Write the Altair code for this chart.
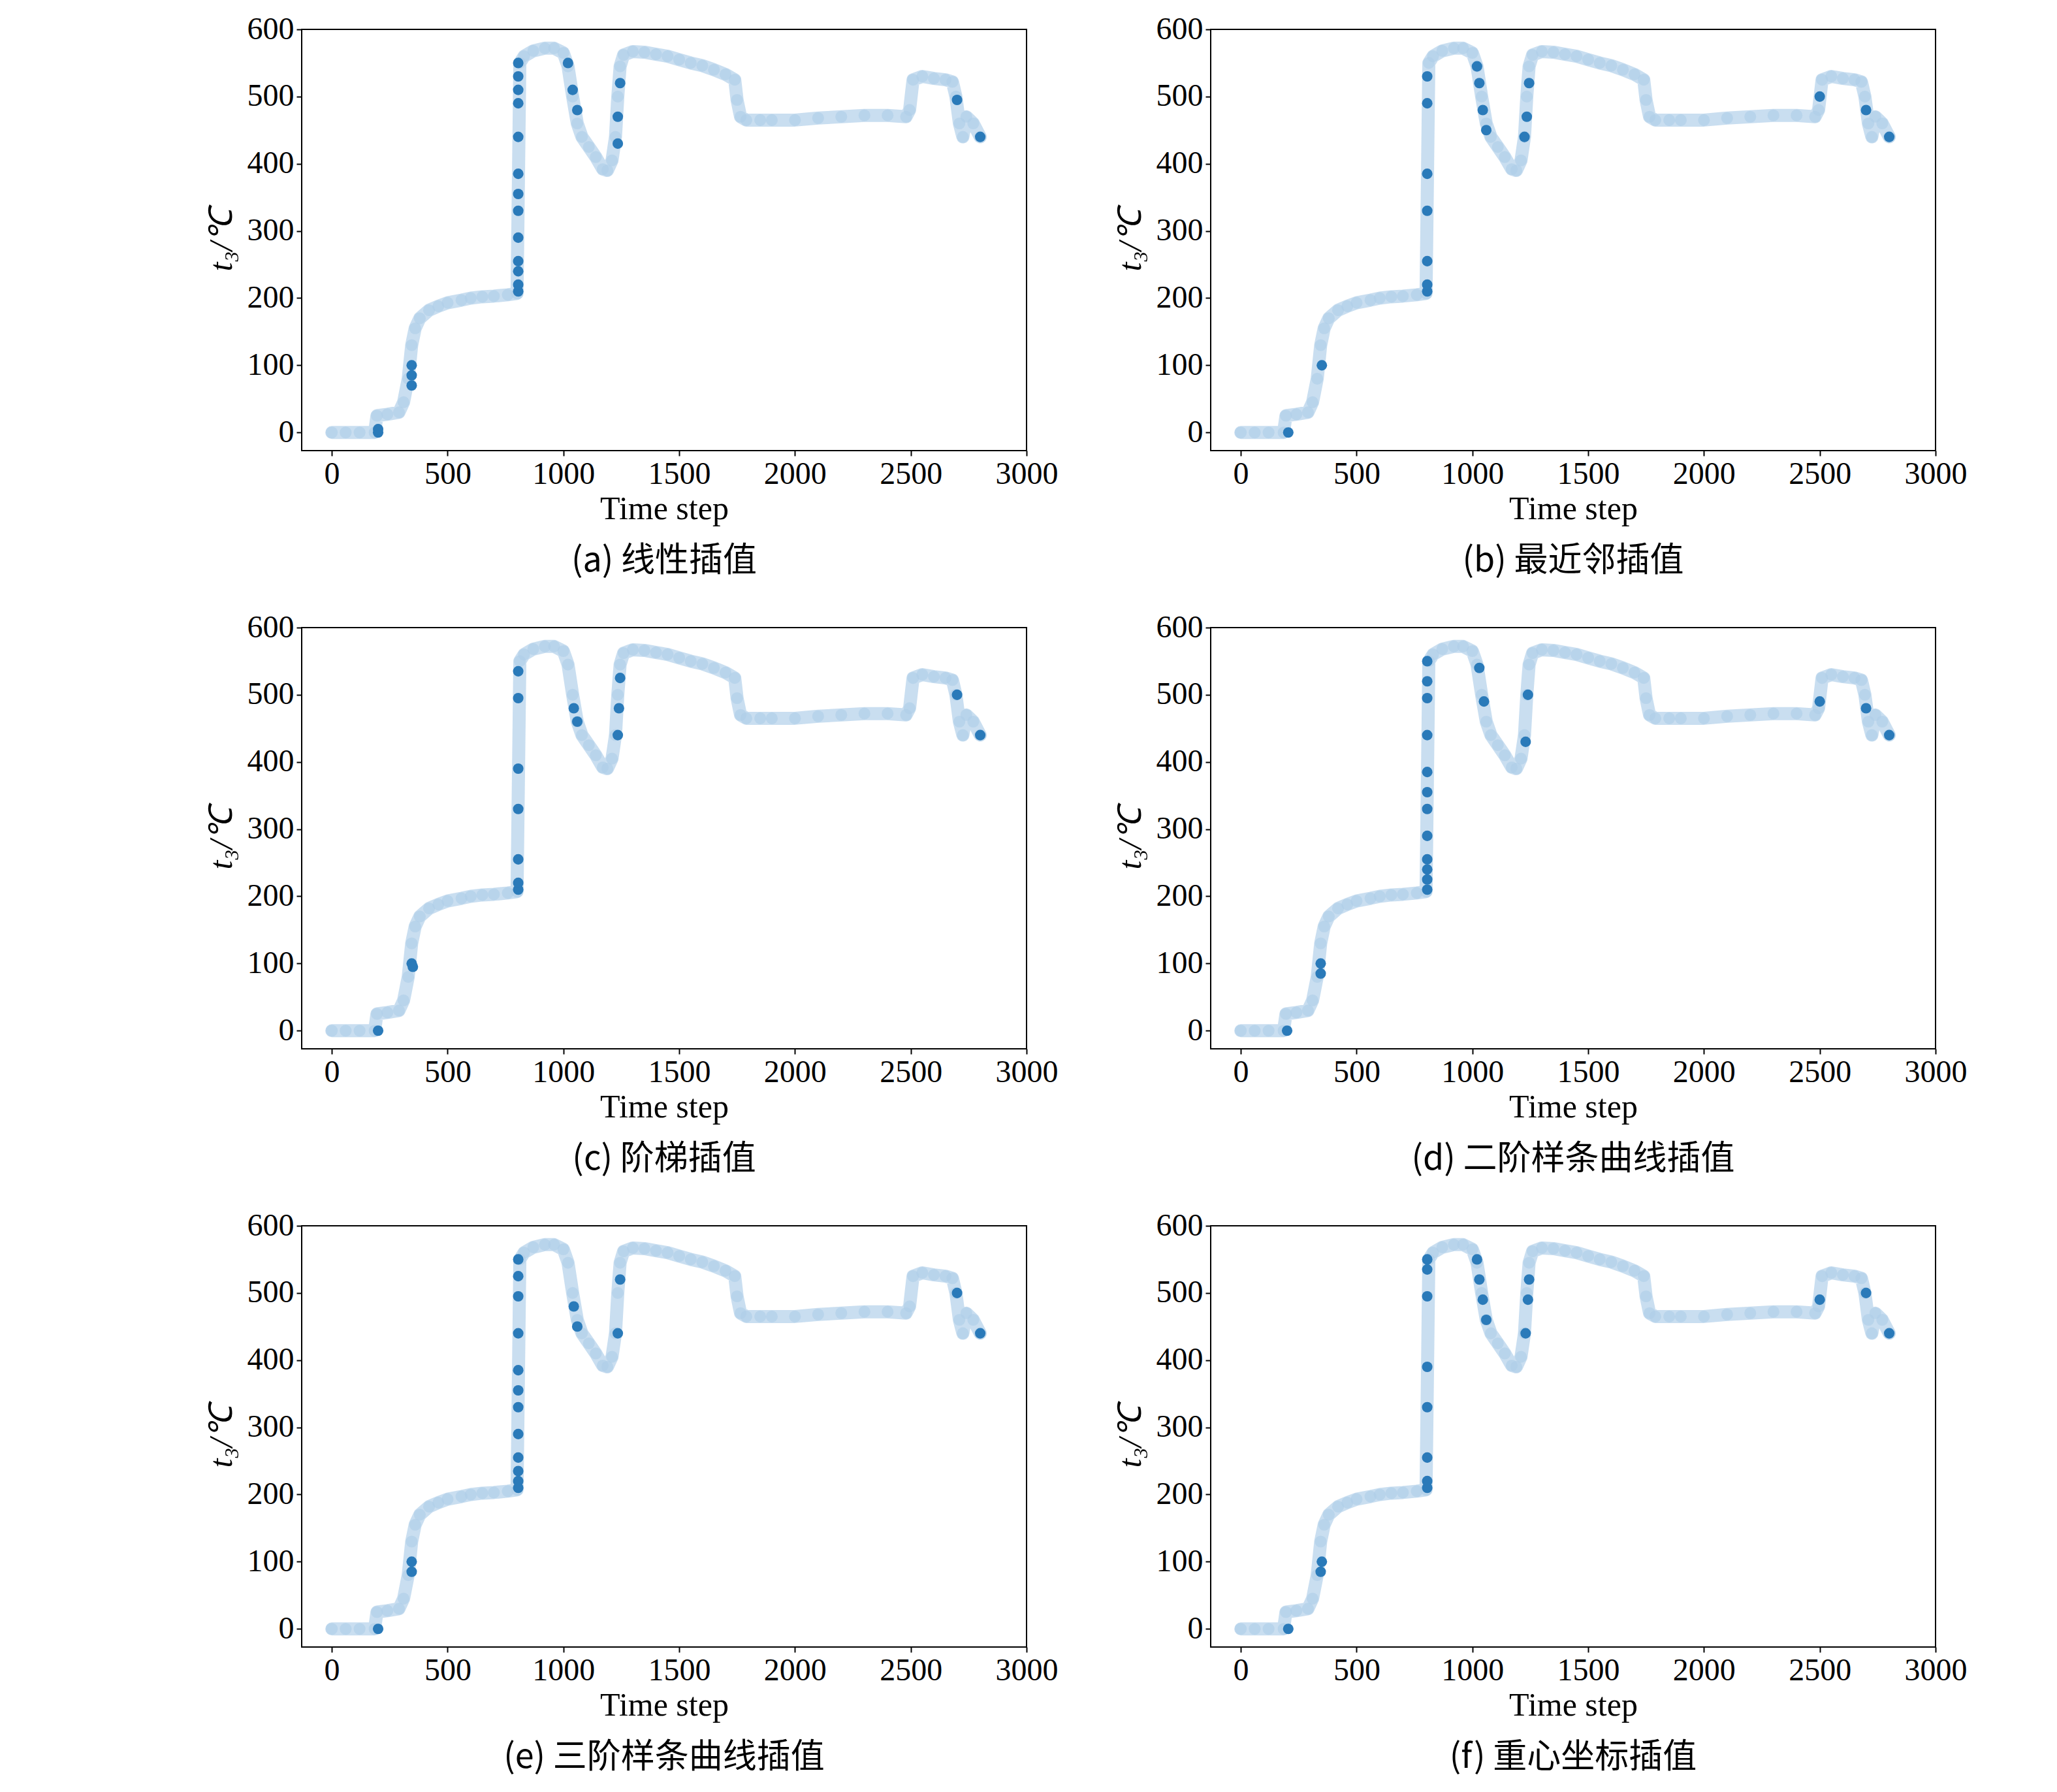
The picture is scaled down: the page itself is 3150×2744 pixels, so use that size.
import altair as alt
import pandas as pd

t_base = [0,60,120,185,195,240,290,310,330,345,360,380,420,460,500,560,600,650,700,760,800,
          812,830,870,920,960,1000,1020,1040,1060,1080,1110,1140,1170,1190,1210,1225,1235,1245,1260,1300,
          1350,1400,1450,1500,1550,1600,1650,1700,1740,1750,1765,1790,1850,1900,2000,2100,2200,2300,2400,2480,
          2495,2510,2550,2600,2650,2680,2695,2710,2725,2740,2770,2800]
v_base = [0,0,0,0,25,27,30,45,80,130,155,170,182,188,193,197,200,202,203,205,207,
          550,560,568,572,572,565,545,500,460,440,425,410,392,390,405,440,500,545,562,567,
          566,563,560,555,550,546,540,533,525,495,470,465,465,465,465,468,470,472,472,470,
          480,525,530,527,525,522,500,460,440,470,460,440]

dark = {
 "(a) 线性插值": ([200,200,345,345,345,805,805,805,805,805,805,805,805,805,805,805,805,805,1020,1040,1060,1235,1235,1245,2700,2800],
                 [0,5,70,85,100,210,220,240,255,290,330,355,385,440,490,510,530,550,550,510,480,430,470,520,495,440]),
 "(b) 最近邻插值": ([205,350,805,805,805,805,805,805,805,1020,1030,1045,1060,1225,1235,1245,2500,2700,2800],
                 [0,100,210,220,255,330,385,490,530,545,520,480,450,440,470,520,500,480,440]),
 "(c) 阶梯插值": ([200,345,350,805,805,805,805,805,805,805,1045,1060,1235,1240,1245,2700,2800],
                 [0,100,95,210,220,255,330,390,495,535,480,460,440,480,525,500,440]),
 "(d) 二阶样条曲线插值": ([200,345,345,805,805,805,805,805,805,805,805,805,805,805,805,1030,1050,1230,1240,2500,2700,2800],
                 [0,85,100,210,225,240,255,290,330,355,385,440,495,520,550,540,490,430,500,490,480,440]),
 "(e) 三阶样条曲线插值": ([200,345,345,805,805,805,805,805,805,805,805,805,805,805,805,1045,1060,1235,1245,2700,2800],
                 [0,85,100,210,220,235,255,290,330,355,385,440,495,525,550,480,450,440,520,500,440]),
 "(f) 重心坐标插值": ([205,345,350,805,805,805,805,805,805,805,805,1020,1030,1045,1060,1230,1240,1245,2500,2700,2800],
                 [0,85,100,210,220,255,330,390,495,535,550,550,520,490,460,440,490,520,490,500,440]),
}

font = "Liberation Serif"

def panel(caption, td, vd):
    light = pd.DataFrame({"t": t_base, "v": v_base})
    dk = pd.DataFrame({"t": td, "v": vd})
    x = alt.X("t:Q", scale=alt.Scale(domain=[-130, 3000], nice=False),
              axis=alt.Axis(values=[0,500,1000,1500,2000,2500,3000], format="d", title="Time step",
                            labelFlush=False))
    y = alt.Y("v:Q", scale=alt.Scale(domain=[-27, 600], nice=False),
              axis=alt.Axis(values=[0,100,200,300,400,500,600], format="d", title="t₃/℃"))
    band = alt.Chart(light).mark_line(color="#c6dcef", strokeWidth=20, opacity=0.95,
                                      strokeCap="round", strokeJoin="round").encode(x=x, y=y)
    pts = alt.Chart(light).mark_circle(color="#aecde8", size=330, opacity=0.6).encode(x=x, y=y)
    dpts = alt.Chart(dk).mark_circle(color="#2a7ab9", size=260, opacity=1).encode(x=x, y=y)
    return alt.layer(band, pts, dpts).properties(
        width=1110, height=645,
        title=alt.TitleParams(caption, orient="bottom", font="Noto Sans CJK SC",
                              fontSize=52, fontWeight="normal", offset=30, color="black"))

names = list(dark.keys())
rows = []
for i in range(0, 6, 2):
    rows.append(alt.hconcat(panel(names[i], *dark[names[i]]),
                            panel(names[i+1], *dark[names[i+1]]), spacing=84))
chart = alt.vconcat(*rows, spacing=50).properties(
    padding={"left": 305, "top": 12, "right": 40, "bottom": 20}
).configure_view(stroke="black", strokeWidth=2).configure_axis(
    labelFont=font, titleFont=font, labelFontSize=48, titleFontSize=50, titleFontWeight="normal",
    labelColor="black", titleColor="black", grid=False, domain=False,
    tickColor="black", tickSize=8, tickWidth=2, labelPadding=4
).configure_axisY(titleFontStyle="italic", titlePadding=14).configure_axisX(titlePadding=4)
chart.save("out.html", embed_options={"renderer": "svg", "actions": False})
